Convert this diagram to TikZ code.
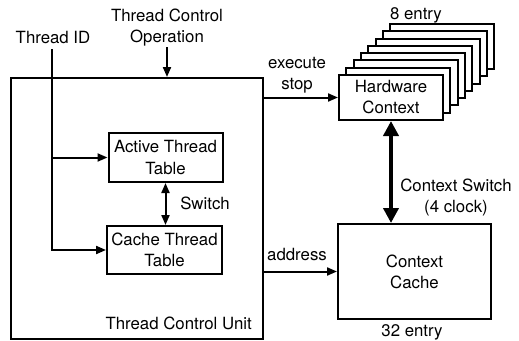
\documentclass[tikz,border=0pt]{standalone}
\usepackage{fontspec}
\setmainfont{TeX Gyre Heros}
\usetikzlibrary{arrows.meta}
\tikzset{
  box/.style={draw, line width=2pt, fill=white, inner sep=0pt, align=center},
  wire/.style={line width=2pt},
  tip/.style={wire, -{Triangle[length=10pt,width=8pt]}},
  bigtip/.style={line width=4pt, {Triangle[length=15pt,width=15pt]}-{Triangle[length=15pt,width=15pt]}},
  lbl/.style={align=center, inner sep=0pt}
}
\begin{document}
\begin{tikzpicture}[x=1pt, y=-1pt, font=\fontsize{16.8}{21}\selectfont]
  \useasboundingbox (0,0) rectangle (519,340);

  % thread control unit and its two tables
  \node[box, minimum width=252pt, minimum height=261pt, anchor=north west] (tcu) at (10,77) {};
  \node[lbl, anchor=south east] (tculbl) at (252,330) {Thread Control Unit};
  \node[box, minimum width=114pt, minimum height=49pt] (att) at (165.5,157.5) {Active Thread\\Table};
  \node[box, minimum width=115pt, minimum height=48pt] (ctt) at (164.5,250) {Cache Thread\\Table};
  \draw[wire, {Triangle[length=10pt,width=8pt]}-{Triangle[length=10pt,width=8pt]}] (att.south) -- (att.south |- ctt.north);
  \node[lbl] (swl) at (205,203) {Switch};

  % external inputs
  \node[lbl] (tidl) at (53,38) {Thread ID};
  \coordinate (tid) at (52,49);
  \draw[tip] (tid) |- (ctt.west);
  \draw[tip] (tid |- att.west) -- (att.west);
  \node[lbl] (opl) at (167,28) {Thread Control\\Operation};
  \coordinate (op) at (167,47);
  \draw[tip] (op) -- (op |- tcu.north);

  % stack of eight hardware contexts, back to front
  \foreach \k in {7,6,...,1} {
    \node[box, minimum width=104pt, minimum height=45pt] (hw\k) at ({391+7.3*\k},{97.5-7.3*\k}) {};
  }
  \node[box, minimum width=104pt, minimum height=45pt] (hw) at (391,97.5) {Hardware\\Context};
  \node[lbl] (hwn) at (416,15) {8 entry};

  % context cache
  \node[box, minimum width=153pt, minimum height=95pt] (cc) at (414.5,271.5) {Context\\Cache};
  \node[lbl] (ccn) at (412,332) {32 entry};

  % connections
  \draw[tip] (hw.west -| tcu.east) -- (hw.west);
  \node[lbl] (esl) at (297,75) {execute\\stop};
  \draw[tip] (cc.west -| tcu.east) -- (cc.west);
  \node[lbl] (adl) at (297,254) {address};
  \draw[bigtip] (hw.south) -- (hw.south |- cc.north);
  \node[lbl] (csl) at (456,198) {Context Switch\\(4 clock)};
\end{tikzpicture}
\end{document}
